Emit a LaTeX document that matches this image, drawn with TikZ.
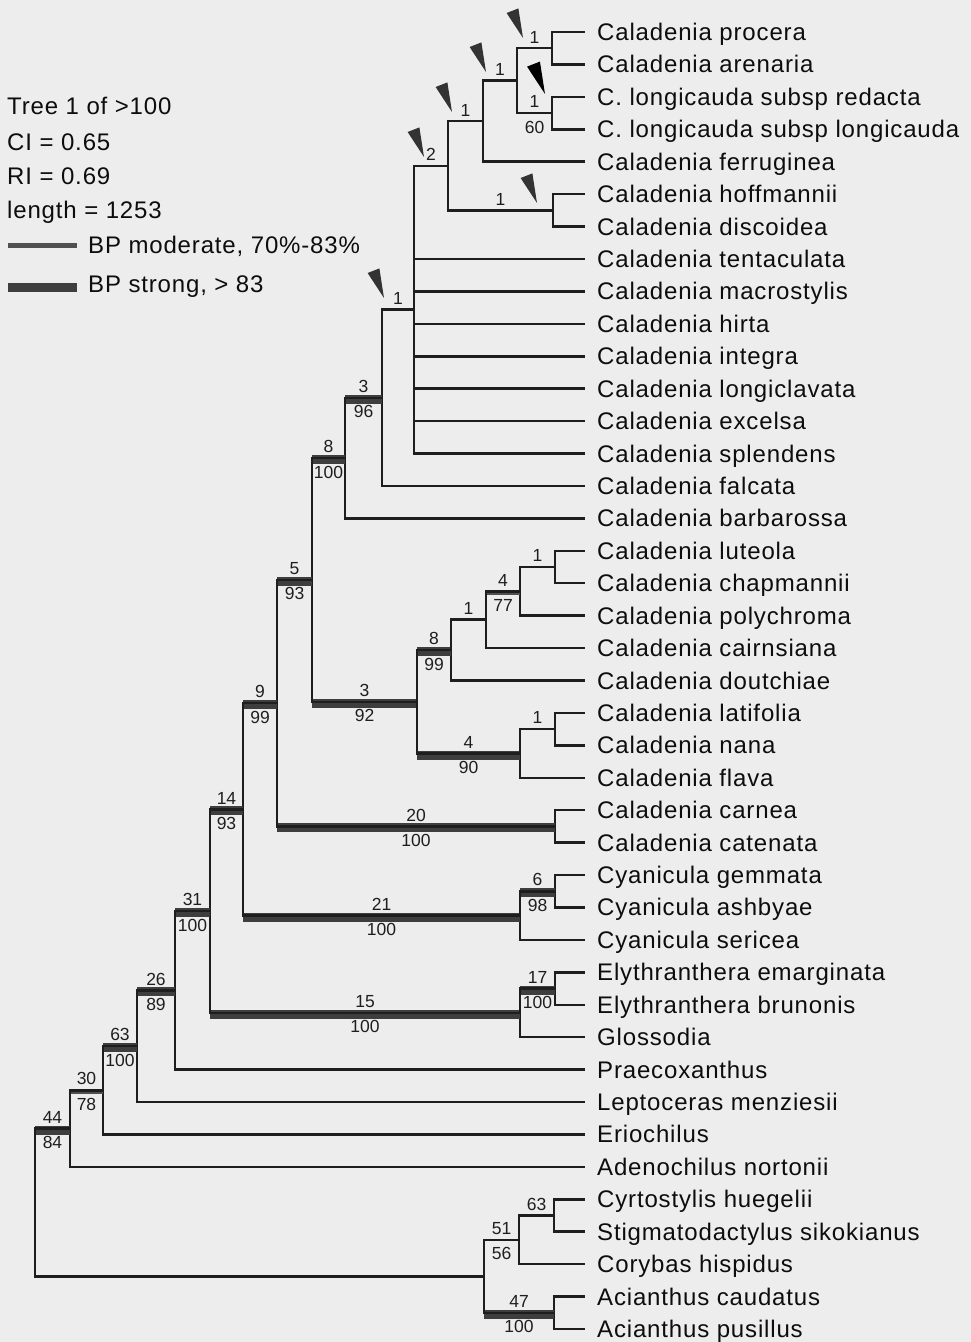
\documentclass[tikz,border=0pt]{standalone}
\usepackage{fontspec}
\setmainfont{Liberation Sans}
\newfontfamily\leaff[LetterSpace=3.5]{Liberation Sans}
\newfontfamily\numf{Liberation Sans}
\usetikzlibrary{calc}
\definecolor{bg}{HTML}{EDEDED}
\definecolor{ink}{HTML}{1E1E1E}
\definecolor{strongc}{HTML}{3E3E3E}
\definecolor{modc}{HTML}{505050}
\definecolor{arrc}{HTML}{333333}
\tikzset{
  branch/.style={draw=ink, line width=2.5pt, line join=miter},
  strongbar/.style={draw=strongc, line width=9pt},
  modbar/.style={draw=modc, line width=4.5pt},
  nobar/.style={draw=none},
  lab/.style={font=\numf\fontsize{17.5}{19}\selectfont, text=ink, inner sep=0pt},
  leaf/.style={font=\leaff\fontsize{24}{28}\selectfont, text=black!95, inner sep=0pt, anchor=base west},
  legend/.style={font=\leaff\fontsize{24}{28}\selectfont, text=black!95, inner sep=0pt, anchor=base west},
  wedge/.pic={\fill[pic actions] (0,0) -- (-15.6,-23.8) -- (-4.4,-28.2) -- cycle;},
}
% parent, child, label above, label below, bar style
\newcommand\cl[5]{%
  \draw[#5,transform canvas={yshift=-1.5pt}] (#1 |- #2) -- (#2);
  \draw[branch] (#1) |- (#2);
  \ifx&#3&\else\node[lab,above=5pt] (a-#2) at ($(#1 |- #2)!.5!(#2)$) {#3};\fi
  \ifx&#4&\else\node[lab,below=7.5pt] (b-#2) at ($(#1 |- #2)!.5!(#2)$) {#4};\fi
}
\begin{document}
\begin{tikzpicture}[x=1pt,y=-1pt]
\fill[bg] (0,0) rectangle (971,1342);
\useasboundingbox (0,0) rectangle (971,1342);

% leaves
\foreach \nm [count=\i] in {Caladenia procera, Caladenia arenaria, C. longicauda subsp redacta, C. longicauda subsp longicauda, Caladenia ferruginea, Caladenia hoffmannii, Caladenia discoidea, Caladenia tentaculata, Caladenia macrostylis, Caladenia hirta, Caladenia integra, Caladenia longiclavata, Caladenia excelsa, Caladenia splendens, Caladenia falcata, Caladenia barbarossa, Caladenia luteola, Caladenia chapmannii, Caladenia polychroma, Caladenia cairnsiana, Caladenia doutchiae, Caladenia latifolia, Caladenia nana, Caladenia flava, Caladenia carnea, Caladenia catenata, Cyanicula gemmata, Cyanicula ashbyae, Cyanicula sericea, Elythranthera emarginata, Elythranthera brunonis, Glossodia, Praecoxanthus, Leptoceras menziesii, Eriochilus, Adenochilus nortonii, Cyrtostylis huegelii, Stigmatodactylus sikokianus, Corybas hispidus, Acianthus caudatus, Acianthus pusillus}{
  \coordinate (l\i) at (585,{32+(\i-1)*32.425});
  \node[leaf] (t\i) at (597,{40.5+(\i-1)*32.425}) {\nm};
}

% internal nodes
\coordinate (nA) at (552,48.2);
\coordinate (nB) at (552,113.1);
\coordinate (nC) at (517,80.65);
\coordinate (nD) at (483,121.2);
\coordinate (nE) at (553,210.35);
\coordinate (nF) at (448,165.8);
\coordinate (nG) at (414,309.7);
\coordinate (nH) at (382,397.8);
\coordinate (nI) at (345,458.1);
\coordinate (nP) at (555,567.0);
\coordinate (nO) at (520,591.4);
\coordinate (nN) at (486,619.7);
\coordinate (nL) at (451,650.1);
\coordinate (nQ) at (555,729.15);
\coordinate (nM) at (520,753.5);
\coordinate (nK) at (417,701.8);
\coordinate (nJ) at (312,580.0);
\coordinate (nS) at (555,826.4);
\coordinate (nR) at (277,703.2);
\coordinate (nV) at (555,891.3);
\coordinate (nU) at (520,915.6);
\coordinate (nT) at (243,809.4);
\coordinate (nY) at (555,988.55);
\coordinate (nX) at (520,1012.9);
\coordinate (nW) at (210,911.1);
\coordinate (nZ) at (175,990.4);
\coordinate (n63) at (137,1046.2);
\coordinate (n30) at (103,1090.3);
\coordinate (n44) at (70,1128.6);
\coordinate (nAD) at (554,1215.5);
\coordinate (nAB) at (519,1239.85);
\coordinate (nAC) at (554,1312.8);
\coordinate (nAA) at (484,1276.3);
\coordinate (root) at (35,1202.5);

% leaf branches
\draw[branch] (nA) |- (l1) (nA) |- (l2) (nB) |- (l3) (nB) |- (l4)
  (nD) |- (l5) (nE) |- (l6) (nE) |- (l7)
  (nG) |- (l8) (nG) |- (l9) (nG) |- (l10) (nG) |- (l11) (nG) |- (l12) (nG) |- (l13) (nG) |- (l14)
  (nH) |- (l15) (nI) |- (l16)
  (nP) |- (l17) (nP) |- (l18) (nO) |- (l19) (nN) |- (l20) (nL) |- (l21)
  (nQ) |- (l22) (nQ) |- (l23) (nM) |- (l24)
  (nS) |- (l25) (nS) |- (l26)
  (nV) |- (l27) (nV) |- (l28) (nU) |- (l29)
  (nY) |- (l30) (nY) |- (l31) (nX) |- (l32)
  (nZ) |- (l33) (n63) |- (l34) (n30) |- (l35) (n44) |- (l36)
  (nAD) |- (l37) (nAD) |- (l38) (nAB) |- (l39)
  (nAC) |- (l40) (nAC) |- (l41);

% internal branches
\cl{nC}{nA}{1}{}{nobar}
\cl{nC}{nB}{1}{60}{nobar}
\cl{nD}{nC}{1}{}{nobar}
\cl{nF}{nD}{1}{}{nobar}
\cl{nF}{nE}{1}{}{nobar}
\cl{nG}{nF}{2}{}{nobar}
\cl{nH}{nG}{1}{}{nobar}
\cl{nI}{nH}{3}{96}{strongbar}
\cl{nJ}{nI}{8}{100}{strongbar}
\cl{nJ}{nK}{3}{92}{strongbar}
\cl{nK}{nL}{8}{99}{strongbar}
\cl{nK}{nM}{4}{90}{strongbar}
\cl{nL}{nN}{1}{}{nobar}
\cl{nN}{nO}{4}{77}{modbar}
\cl{nO}{nP}{1}{}{nobar}
\cl{nM}{nQ}{1}{}{nobar}
\cl{nR}{nJ}{5}{93}{strongbar}
\cl{nR}{nS}{20}{100}{strongbar}
\cl{nT}{nR}{9}{99}{strongbar}
\cl{nT}{nU}{21}{100}{strongbar}
\cl{nU}{nV}{6}{98}{strongbar}
\cl{nW}{nT}{14}{93}{strongbar}
\cl{nW}{nX}{15}{100}{strongbar}
\cl{nX}{nY}{17}{100}{strongbar}
\cl{nZ}{nW}{31}{100}{strongbar}
\cl{n63}{nZ}{26}{89}{strongbar}
\cl{n30}{n63}{63}{100}{strongbar}
\cl{n44}{n30}{30}{78}{modbar}
\cl{root}{n44}{44}{84}{strongbar}
\cl{root}{nAA}{}{}{nobar}
\cl{nAA}{nAB}{51}{56}{nobar}
\cl{nAA}{nAC}{47}{100}{strongbar}
\cl{nAB}{nAD}{63}{}{nobar}

% arrowheads
\pic[fill=arrc,scale=1.05] (w1) at (523,38) {wedge};
\pic[fill=arrc,scale=1.05] (w2) at (486,72) {wedge};
\pic[fill=arrc,scale=1.05] (w3) at (452,112) {wedge};
\pic[fill=arrc,scale=1.05] (w4) at (424,157) {wedge};
\pic[fill=arrc,scale=1.05] (w5) at (537,203) {wedge};
\pic[fill=arrc,scale=1.05] (w6) at (384,298) {wedge};
\pic[fill=black,scale=1.15] (w7) at (545,94) {wedge};

% legend
\node[legend] (lg1) at (7,114.3) {Tree 1 of >100};
\node[legend] (lg2) at (7,150) {CI = 0.65};
\node[legend] (lg3) at (7,184) {RI = 0.69};
\node[legend] (lg4) at (7,218.3) {length = 1253};
\node[legend] (lg5) at (88,253) {BP moderate, 70\%-83\%};
\node[legend] (lg6) at (88,292) {BP strong, > 83};
\coordinate (lm1) at (8,245.5);
\coordinate (lm2) at (77,245.5);
\coordinate (ls1) at (8,287);
\coordinate (ls2) at (77,287);
\draw[modbar] (lm1) -- (lm2);
\draw[strongbar] (ls1) -- (ls2);
\end{tikzpicture}
\end{document}
